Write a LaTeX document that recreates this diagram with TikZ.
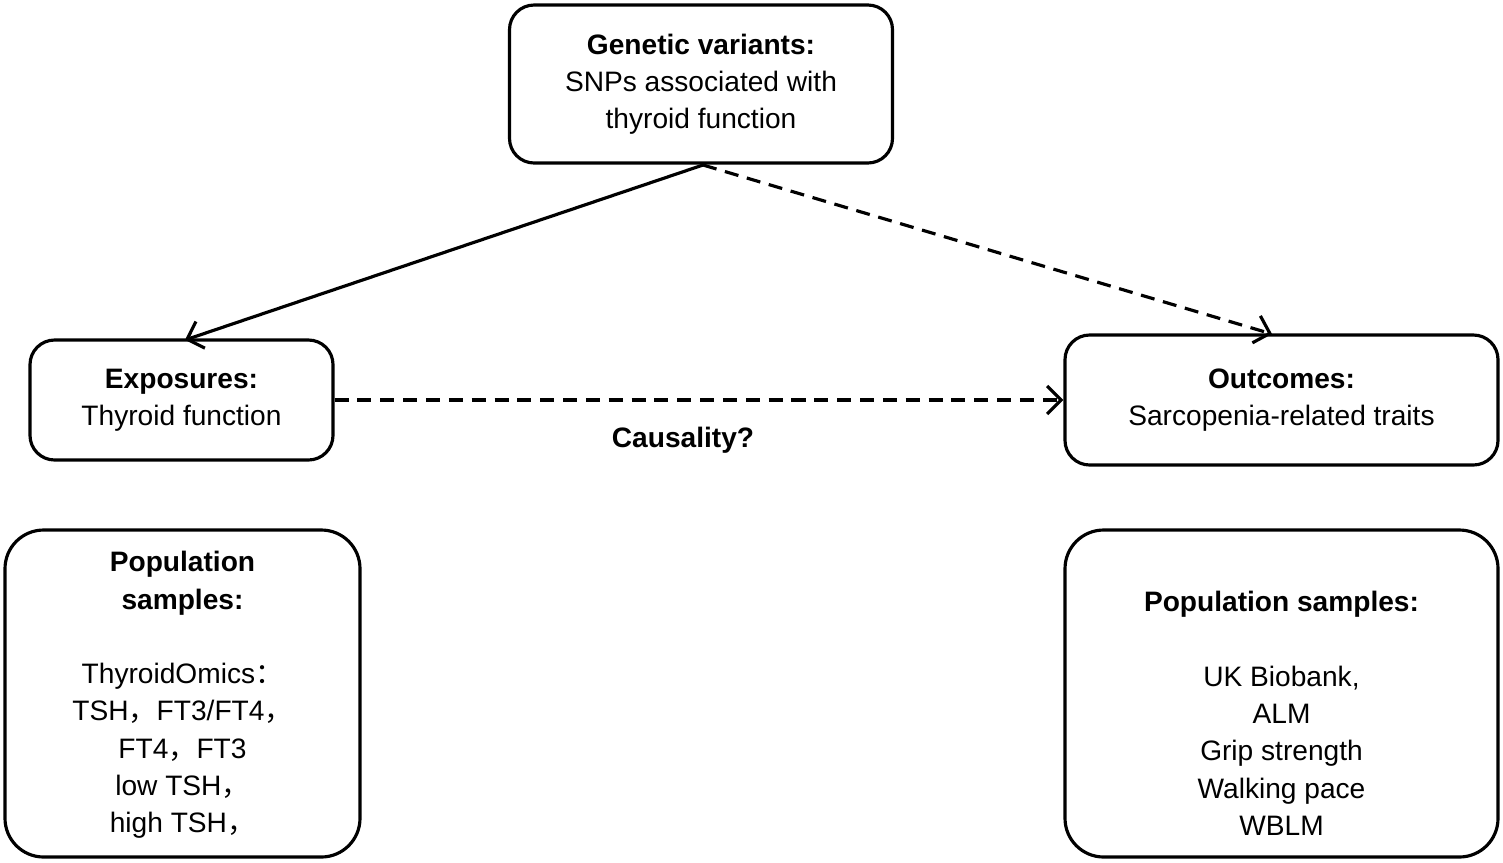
\documentclass[tikz,border=0pt]{standalone}
\usepackage{fontspec}
\setmainfont{Liberation Sans}
\newfontfamily\cjk{Noto Sans CJK SC}
\usetikzlibrary{arrows.meta}
\begin{document}
\begin{tikzpicture}[x=0.1mm,y=-0.1mm,
  box/.style={draw,line width=0.9pt,rounded corners=7pt,inner sep=0pt},
  bigbox/.style={draw,line width=0.9pt,rounded corners=11pt,inner sep=0pt},
  txt/.style={align=center,font=\fontsize{8}{10.6}\selectfont,inner sep=0pt},
  arr/.style={line width=0.9pt,-{Straight Barb[length=4pt,width=8pt]}},
  darr/.style={arr,dash pattern=on 4pt off 2.5pt}]
\useasboundingbox (0,0) rectangle (1503,862);
\node[box,minimum width=383\pgflinewidth,minimum width=38.3mm,minimum height=15.8mm] (gen) at (701,84) {};
\node[txt] at (701,84) {\textbf{Genetic variants:}\\SNPs associated with\\thyroid function};
\node[box,minimum width=30.3mm,minimum height=12mm] (exp) at (181.5,400) {};
\node[txt] at (181.5,400) {\textbf{Exposures:}\\Thyroid function};
\node[box,minimum width=43.3mm,minimum height=13mm] (out) at (1281.5,400) {};
\node[txt] at (1281.5,400) {\textbf{Outcomes:}\\Sarcopenia-related traits};
\node[bigbox,minimum width=35.5mm,minimum height=32.7mm] (lpop) at (182.5,693.5) {};
\node[txt,font=\fontsize{8}{10.6}\selectfont\linespread{1}] at (182.5,695) {\textbf{Population}\\\textbf{samples:}\\[10.6pt]ThyroidOmics{\cjk ：}\\TSH{\cjk ，}FT3/FT4{\cjk ，}\\FT4{\cjk ，}FT3\\low TSH{\cjk ，}\\high TSH{\cjk ，}};
\node[bigbox,minimum width=43.3mm,minimum height=32.7mm] (rpop) at (1281.5,693.5) {};
\node[txt] at (1281.5,713.5) {\textbf{Population samples:}\\[10.6pt]UK Biobank,\\ALM\\Grip strength\\Walking pace\\WBLM};
\coordinate (gs) at (703,165);
\draw[arr] (gs) -- (185,340);
\draw[darr] (gs) -- (1272,334);
\draw[darr] (exp.east) -- (out.west);
\node[txt] at (683,440) {\textbf{Causality?}};
\end{tikzpicture}
\end{document}
